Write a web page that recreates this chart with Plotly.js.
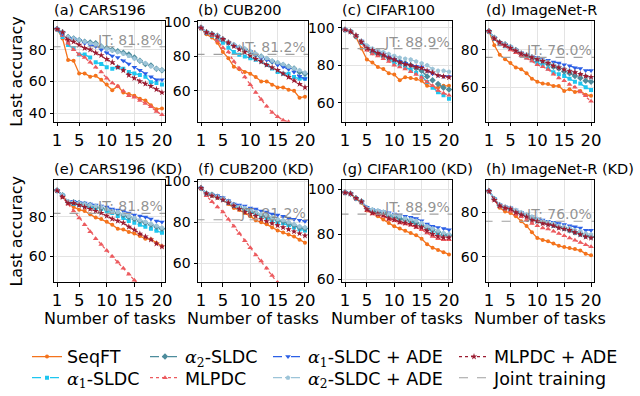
<!DOCTYPE html>
<html>
<head>
<meta charset="utf-8">
<script src="https://cdn.plot.ly/plotly-3.0.1.min.js"></script>
<style>
html,body{margin:0;padding:0;background:#fff;}
#chart{width:640px;height:396px;}
</style>
</head>
<body>
<div id="chart"></div>
<script>
// ---------------- DATA ----------------
const tasks = [1,2,3,4,5,6,7,8,9,10,11,12,13,14,15,16,17,18,19,20];

const panelTitles = ['(a) CARS196','(b) CUB200','(c) CIFAR100','(d) ImageNet-R',
                     '(e) CARS196 (KD)','(f) CUB200 (KD)','(g) CIFAR100 (KD)','(h) ImageNet-R (KD)'];
const jointTraining = [81.8, 81.2, 88.9, 76.0, 81.8, 81.2, 88.9, 76.0];
const jtLabels = ['JT: 81.8%','JT: 81.2%','JT: 88.9%','JT: 76.0%','JT: 81.8%','JT: 81.2%','JT: 88.9%','JT: 76.0%'];
const seriesNames = ['SeqFT','α1-SLDC','α2-SLDC','MLPDC','α1-SLDC + ADE','α2-SLDC + ADE','MLPDC + ADE','Joint training'];
const xTitle = 'Number of tasks';
const yTitle = 'Last accuracy';

// (a) CARS196
const cars_seqft  = [93,87,73.5,73,65,65,63,63.5,61,58,54.5,57,53,52,51,49,48,45,42.5,43];
const cars_a1     = [93,88,83,81,77,77,75,72,71,69,68,69,68,66,65,64,63,59.5,59,58];
const cars_a2     = [93,91,88,87,86,85,84.5,84,82,81,80,79,78,77,75,73,71,70,68,67];
const cars_mlp    = [93,89,84,80,77,75,72,69,66,62,59,57,54,51,50,48,46,44,41,39];
const cars_a1ade  = [93,90,87,87,86,84,83,82,80,78,76,75,73,71,69,67,65,63,61,61];
const cars_a2ade  = [93,91,88,87,86,85,84,83.5,82,80.5,79.5,78.5,77.5,76,74.5,73,71.5,69.5,68,67];
const cars_mlpade = [93,91,86,85,83,81,80,78,76.5,74,72,69,67,64,62,60,58.5,57,55,53];

// (b) CUB200
const cub_seqft  = [96.6,92.8,91,88,82.5,79,74,72.6,71,70,68,65.5,65.5,63.5,62,62,60.7,60,56,56.6];
const cub_a1     = [96.6,94,92,90,88,85,82.5,81,80,79,78,77,75,73,71,70,70,68,67,67];
const cub_a2     = [96.6,94,93,92,90,88,86.5,85,84,82.5,81,80,78.5,77,76,75,74,73,71,70];
const cub_mlp    = [96.6,94,92,89,85,82.5,77,73,68,63.6,59,55,51,47.5,45,43,42,40,38,36];
const cub_a1ade  = [96.6,94,93,92,90,88,86.5,85,84,83,81,79,78,77,75,74,72.5,71,68.5,67];
const cub_a2ade  = [96.6,94,93,92,90,88.5,87,85.5,84.5,83,81.5,80,79,77.5,76.5,75.5,74,73,72,70.5];
const cub_mlpade = [96.6,94,93,91.5,90,88,86,84,82.5,80.5,78.5,77,75,73.5,72,70,68,66,64,62];

// (c) CIFAR100
const cifar_seqft  = [99,98.5,95,89,83,81.5,79,78,75.7,75,72,73.6,73.2,72.6,71.7,69,68.6,68,69,69];
const cifar_a1     = [99,98,95.5,92,89,87,86,84.5,83,81.5,80,79,77.5,76,74,71,68,65.5,64,62];
const cifar_a2     = [99,98,95.5,92.5,89,87,86,85,84,83,82,81,80,78.5,77,74,72,70,68,67];
const cifar_mlp    = [99,98,95.5,92,88,86,85,83.5,82,80,79,78,76.5,75,73.5,71,69,66.5,65,64];
const cifar_a1ade  = [99,98,96,93,90,88,87,86,84.5,83,82,81,80,79.5,79,77,75.5,74.5,74,74];
const cifar_a2ade  = [99,98,96,93,90.5,89,88,87,86,85,84,83.5,83,82,81,80,78,77,77,76.5];
const cifar_mlpade = [99,98,96,92.5,89,88,86.5,85.5,84,83,81.5,80.5,80,79,78.5,77,76,74.5,74,73.5];

// (d) ImageNet-R
const imr_seqft  = [90,82.5,77.4,75,73,70.6,69.7,67.5,64.6,63,62,61.7,60.7,60.7,58,59,57.5,58,56,55.5];
const imr_a1     = [90,86,83,82,80.5,79,77.5,76,74.5,73,72,70,68,67,66,64.5,63,62,60,58.5];
const imr_a2     = [90,86.5,84,83,81.5,80,78,77,76,75,74,72.5,71,70,68.5,67.5,66,65,63.5,63];
const imr_mlp    = [90,86,83,82,80,78.5,77,75.5,74,72,71,69.5,67,65,63.5,61.5,60,57.5,55.5,52.5];
const imr_a1ade  = [90,86.5,84,83,81.5,80,78.5,77.5,76.5,76,75.5,74.5,73.5,73,72,71.5,70.5,70,69,69];
const imr_a2ade  = [90,86.5,84,83,81.5,80,78.5,77.5,76.5,75.5,74.5,73.5,72,71,70,69,68,67,66,65];
const imr_mlpade = [90,86,84,82.5,81,79.5,78,77,76,75,74,73,71.5,70.5,69.5,68.5,68,67,66,65.5];

// (e) CARS196 (KD)
const carsKD_seqft  = [93.4,91,87,85,83.7,83,81.3,79.7,78.9,77.6,76,74,73.7,72.4,71.6,70.3,69,68.7,66.8,65.2];
const carsKD_a1     = [93.4,91,87,86.5,86,85.5,85,84.5,84,83,82,80.5,79.5,78,77,76,75,74,73,72];
const carsKD_a2     = [93.4,91,87.5,87.5,87,86.5,86,85,84.5,84,83,82,81,80,79,78,77,76,75,74];
const carsKD_mlp    = [93.4,90,86.5,83,79.5,76,72.5,69,66,63,60,57,54,51,48,45,42,39,36,33];
const carsKD_a1ade  = [93.4,91,88,88,87.5,87,86.5,86,85.5,85,84,83.5,83,82,81,80.5,80,79,78,77.5];
const carsKD_a2ade  = [93.4,91,88,87.5,87,86.5,86,85.5,85,84,83,82.5,81.5,80.5,79.5,78.5,77.5,76.5,75.5,74.5];
const carsKD_mlpade = [93.4,90,87,87,86,85,84,83,82,80.5,79,78,77,75,73.5,71.5,70,68.5,66.5,65];

// (f) CUB200 (KD)
const cubKD_seqft  = [96.8,93.5,93,92,91,89,87,86,84.5,83,81,80,79,77.5,76,75,74,73,71.5,70];
const cubKD_a1     = [96.8,94,93.5,92.5,91,89.5,88,87,86,85,84,83,82,81,80,79.5,78.5,77.5,76.5,76];
const cubKD_a2     = [96.8,94,93.5,92.5,91.5,90,88.5,87.5,86.5,85.5,84.5,83.5,83,82,81,80.5,79.5,78.5,77.5,77];
const cubKD_mlp    = [96.8,93,90,87.5,85,81.5,78,74.5,71,67.5,64,61,57.5,54,50.5,47,43.5,40,36.5,33];
const cubKD_a1ade  = [96.8,94,93.5,93,92,90.5,89,88.5,88,87,86.5,85.5,85,84,83.5,83,82,81.5,81,80.5];
const cubKD_a2ade  = [96.8,94,93.5,92.5,91.5,90,88.5,87.5,87,86,85,84,83.5,82.5,81.5,81,80,79,78,77.5];
const cubKD_mlpade = [96.8,94,93,92,91,89.5,88,86.5,85,84,83,81.5,80.5,79.5,78.5,77.5,76.5,75.5,74.5,73.5];

// (g) CIFAR100 (KD)
const cifarKD_seqft  = [98.5,98,96,94,90.5,89.5,88,86.5,85,83.5,82.5,81.5,80.5,79.5,78,75.5,74,73,72,71];
const cifarKD_a1     = [98.5,98,96,94.5,91.5,90.5,90,89.5,88.5,88,87,86.5,85.5,85,84,82.5,81.5,80.5,80,79.5];
const cifarKD_a2     = [98.5,98,96,94.5,91.5,90.5,90,89.5,88.5,88,87,86.5,86,85,84,83,82,81,80,79.5];
const cifarKD_mlp    = [98.5,98,96,94.5,90.5,89,88.5,88,86.5,86,85,84.5,84,83,82,80.5,79,78,77.5,77.5];
const cifarKD_a1ade  = [98.5,98,96,94.5,92,91,90.5,90,89.5,89,88.5,88,87.5,87,86,84.5,83.5,83,82.5,82];
const cifarKD_a2ade  = [98.5,98,96,94.5,91.5,91,90.5,90,89,88.5,88,87,86.5,86,85,83.5,82.5,81.5,80.5,80];
const cifarKD_mlpade = [98.5,98,96,94.5,91,89.5,89,88.5,87,86.5,85.5,85,84.5,83.5,83,81.5,80,79,78.5,78.5];

// (h) ImageNet-R (KD)
const imrKD_seqft  = [89.5,85.5,82,80.4,79.7,78.2,76,73.9,71,68.5,67.6,67,66,65,64.4,64,63.6,62.9,61.4,60.7];
const imrKD_a1     = [89.5,86,83,82,81.5,80.5,79.5,78.5,77,76,75.5,75,74,73.5,72.5,72,71,70,69.5,69];
const imrKD_a2     = [89.5,86,83,82,81.5,80.5,79.5,78.5,77.5,76.5,75.5,75,74.5,73.5,73,72,71,70.5,69.5,69];
const imrKD_mlp    = [89.5,85.5,82.5,81.5,80.5,79,78,76.5,75,74,73,72.5,71.5,70.5,69.5,68.5,67.5,66.5,65.5,64.5];
const imrKD_a1ade  = [89.5,86,83.5,82.5,82,81,80,79,78,77,76.5,76,75.5,75,74.5,74,73.5,73,72,72];
const imrKD_a2ade  = [89.5,86,83.5,82.5,82,81,80,79,78,77,76,75.5,75,74,73.5,73,72,71.5,70.5,70];
const imrKD_mlpade = [89.5,85.5,83,82,81.5,80,79,78,76.5,76,75,74.5,74,73,72.5,72,71,70,69,68.5];

// ---------------- BUILD ----------------
const panelSeries = [
  [cars_seqft, cars_a1, cars_a2, cars_mlp, cars_a1ade, cars_a2ade, cars_mlpade],
  [cub_seqft, cub_a1, cub_a2, cub_mlp, cub_a1ade, cub_a2ade, cub_mlpade],
  [cifar_seqft, cifar_a1, cifar_a2, cifar_mlp, cifar_a1ade, cifar_a2ade, cifar_mlpade],
  [imr_seqft, imr_a1, imr_a2, imr_mlp, imr_a1ade, imr_a2ade, imr_mlpade],
  [carsKD_seqft, carsKD_a1, carsKD_a2, carsKD_mlp, carsKD_a1ade, carsKD_a2ade, carsKD_mlpade],
  [cubKD_seqft, cubKD_a1, cubKD_a2, cubKD_mlp, cubKD_a1ade, cubKD_a2ade, cubKD_mlpade],
  [cifarKD_seqft, cifarKD_a1, cifarKD_a2, cifarKD_mlp, cifarKD_a1ade, cifarKD_a2ade, cifarKD_mlpade],
  [imrKD_seqft, imrKD_a1, imrKD_a2, imrKD_mlp, imrKD_a1ade, imrKD_a2ade, imrKD_mlpade]
];

const alpha = (n) => '<span style="font-family:\'DejaVu Serif\'"><i>α</i><sub>' + n + '</sub></span>';
const legendLabels = ['SeqFT', alpha(1)+'-SLDC', alpha(2)+'-SLDC', 'MLPDC',
                      alpha(1)+'-SLDC + ADE', alpha(2)+'-SLDC + ADE', 'MLPDC + ADE', 'Joint training'];

const styles = [
  {color:'#f4731c', dash:'solid',   symbol:'circle',        size:4},
  {color:'#1ec6f0', dash:'dash',    symbol:'square',        size:4},
  {color:'#4d8c9c', dash:'dashdot', symbol:'diamond',       size:5},
  {color:'#ec5a5e', dash:'dot',     symbol:'triangle-up',   size:5},
  {color:'#2b5fe6', dash:'dash',    symbol:'triangle-down', size:5},
  {color:'#9cc4d8', dash:'dashdot', symbol:'pentagon',      size:5},
  {color:'#9b1b30', dash:'dot',     symbol:'star',          size:5},
  {color:'#a0a0a0', dash:'dash',    symbol:null,            size:0}
];
// legend slot (column-major like the original: col = floor(i/2), row = i%2)
const legendIds = ['legend','legend2','legend3','legend4','legend5','legend6','legend7','legend8'];

const yRanges = [[34.5,98],[42,100.5],[49.7,103.6],[41.5,95.4],
                 [47,98.5],[50.7,100.5],[58.7,103.9],[48.7,94.3]];
const xPix = [[54,165],[198,308],[342,452],[486,594]];
const yPix = [[22,127],[188,294]];
const W = 640, H = 396;

const traces = [];
const layout = {
  width: W, height: H,
  margin: {l:0, r:0, t:0, b:0},
  paper_bgcolor: '#fff', plot_bgcolor: '#fff',
  font: {family: 'DejaVu Sans', color: '#000'},
  annotations: [],
  showlegend: true
};

for (let p = 0; p < 8; p++) {
  const col = p % 4, row = Math.floor(p / 4);
  const xa = p === 0 ? 'x' : 'x' + (p + 1);
  const ya = p === 0 ? 'y' : 'y' + (p + 1);
  const xk = p === 0 ? 'xaxis' : 'xaxis' + (p + 1);
  const yk = p === 0 ? 'yaxis' : 'yaxis' + (p + 1);

  for (let s = 0; s < 7; s++) {
    const st = styles[s];
    traces.push({
      type: 'scatter', mode: 'lines+markers',
      x: tasks, y: panelSeries[p][s],
      xaxis: xa, yaxis: ya,
      name: legendLabels[s], legendgroup: 'g' + s, legend: legendIds[s],
      showlegend: p === 0,
      line: {color: st.color, dash: st.dash, width: 1.3},
      marker: {color: st.color, symbol: st.symbol, size: st.size, line: {width: 0}},
      hoverinfo: 'skip'
    });
  }
  traces.push({
    type: 'scatter', mode: 'lines',
    x: [0, 21], y: [jointTraining[p], jointTraining[p]],
    xaxis: xa, yaxis: ya,
    name: legendLabels[7], legendgroup: 'g7', legend: legendIds[7],
    showlegend: p === 0,
    line: {color: styles[7].color, dash: 'dash', width: 1.1},
    hoverinfo: 'skip'
  });

  layout[xk] = {
    domain: [xPix[col][0] / W, xPix[col][1] / W],
    anchor: ya,
    range: [0.45, 20.55],
    tickmode: 'array', tickvals: [1, 5, 10, 15, 20],
    ticks: 'outside', ticklen: 3.5, tickwidth: 1, tickcolor: '#000',
    tickfont: {size: 16.5, family: 'DejaVu Sans'},
    showgrid: true, gridcolor: '#e3e3e3', gridwidth: 1,
    showline: true, mirror: true, linecolor: '#000', linewidth: 1,
    zeroline: false, fixedrange: true
  };

  layout[yk] = {
    domain: [1 - yPix[row][1] / H, 1 - yPix[row][0] / H],
    anchor: xa,
    range: yRanges[p],
    tick0: 0, dtick: 20,
    ticks: 'outside', ticklen: 3.5, tickwidth: 1, tickcolor: '#000',
    tickfont: {size: 14, family: 'DejaVu Sans'},
    showgrid: true, gridcolor: '#e3e3e3', gridwidth: 1,
    showline: true, mirror: true, linecolor: '#000', linewidth: 1,
    zeroline: false, fixedrange: true
  };
  if (col === 0) layout[yk].title = {text: yTitle, font: {size: 16, family: 'DejaVu Sans'}, standoff: 2};

  // x axis title for bottom row
  if (row === 1) {
    layout.annotations.push({
      xref: 'paper', yref: 'paper',
      x: (xPix[col][0] + xPix[col][1]) / 2 / W, y: 1 - 332 / H,
      xanchor: 'center', yanchor: 'middle', borderpad: 0,
      text: xTitle, showarrow: false,
      font: {size: 16, family: 'DejaVu Sans', color: '#000'}
    });
  }

  // panel title (left aligned)
  layout.annotations.push({
    xref: 'paper', yref: 'paper',
    x: xPix[col][0] / W, y: 1 - yPix[row][0] / H,
    xanchor: 'left', yanchor: 'bottom', yshift: 1, xshift: -2,
    text: panelTitles[p], showarrow: false,
    font: {size: 14.5, family: 'DejaVu Sans', color: '#000'}
  });
  // joint training label
  layout.annotations.push({
    xref: xa + ' domain', yref: ya,
    x: 1, y: jointTraining[p],
    xanchor: 'right', yanchor: 'bottom', yshift: -3,
    text: jtLabels[p], showarrow: false,
    font: {size: 14, family: 'DejaVu Sans', color: 'rgba(128,128,128,0.85)'}
  });
}

const legBase = {
  orientation: 'v', yanchor: 'top', xanchor: 'left',
  bgcolor: 'rgba(0,0,0,0)', borderwidth: 0,
  font: {size: 17.5, family: 'DejaVu Sans', color: '#000'},
  itemwidth: 30
};
const legX = [27, 145, 268, 454];
const legRowY = [353, 375];
for (let i = 0; i < 8; i++) {
  const c = Math.floor(i / 2), r = i % 2;
  layout[legendIds[i]] = Object.assign({}, legBase, {x: legX[c] / W, y: 1 - legRowY[r] / H});
}

Plotly.newPlot('chart', traces, layout, {staticPlot: true, displayModeBar: false});
</script>
</body>
</html>
